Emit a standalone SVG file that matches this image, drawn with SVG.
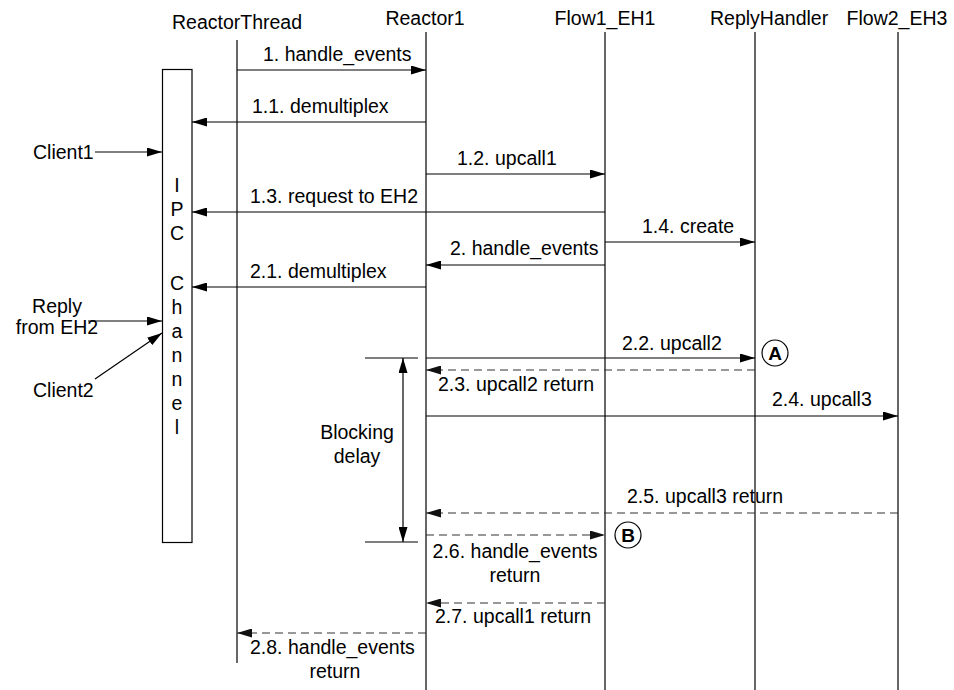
<svg xmlns="http://www.w3.org/2000/svg" width="954" height="690" viewBox="0 0 954 690">
  <defs>
    <marker id="arrow" markerUnits="userSpaceOnUse" markerWidth="15" markerHeight="9" refX="15" refY="4.5" orient="auto-start-reverse">
      <path d="M0,0 L15,4.5 L0,9 z" fill="#000"/>
    </marker>
    <marker id="arrowDash" markerUnits="userSpaceOnUse" markerWidth="15" markerHeight="9" refX="15" refY="4.5" orient="auto">
      <path d="M0,0 L15,4.5 L0,9 z" fill="#111"/>
    </marker>
  </defs>
  <style>
    text { font-family: "Liberation Sans", Arial, sans-serif; font-size: 19.5px; fill: #000; }
    .life { stroke: #000; stroke-width: 1.2; fill: none; }
    .msg { stroke: #000; stroke-width: 1.2; fill: none; marker-end: url(#arrow); }
    .ret { stroke: #333; stroke-width: 1.2; fill: none; stroke-dasharray: 8 5; marker-end: url(#arrowDash); }
    .plain { stroke: #000; stroke-width: 1.2; fill: none; }
    .mid { text-anchor: middle; }
    .tag { font-weight: bold; font-size: 19px; text-anchor: middle; }
  </style>
  <rect width="954" height="690" fill="#fff"/>

  <!-- lifelines -->
  <g id="reactor-thread">
    <text x="237" y="29" class="mid">ReactorThread</text>
    <line class="life" x1="237" y1="40" x2="237" y2="663"/>
  </g>
  <g id="reactor1">
    <text x="425" y="25" class="mid">Reactor1</text>
    <line class="life" x1="426" y1="32" x2="426" y2="690"/>
  </g>
  <g id="flow1-eh1">
    <text x="605" y="25" class="mid">Flow1_EH1</text>
    <line class="life" x1="605" y1="32" x2="605" y2="690"/>
  </g>
  <g id="reply-handler">
    <text x="710" y="25">ReplyHandler</text>
    <line class="life" x1="755" y1="32" x2="755" y2="690"/>
  </g>
  <g id="flow2-eh3">
    <text x="897" y="25" class="mid">Flow2_EH3</text>
    <line class="life" x1="898" y1="32" x2="898" y2="690"/>
  </g>

  <!-- IPC channel -->
  <g id="ipc-channel">
    <rect x="162.5" y="69.5" width="29.5" height="473" fill="none" stroke="#000" stroke-width="1.2"/>
    <text x="177" y="192" class="mid">I</text>
    <text x="177" y="216" class="mid">P</text>
    <text x="177" y="240" class="mid">C</text>
    <text x="177" y="290" class="mid">C</text>
    <text x="177" y="314" class="mid">h</text>
    <text x="177" y="338" class="mid">a</text>
    <text x="177" y="362" class="mid">n</text>
    <text x="177" y="386" class="mid">n</text>
    <text x="177" y="410" class="mid">e</text>
    <text x="177" y="434" class="mid">l</text>
  </g>

  <!-- external sources -->
  <g id="client1">
    <text x="33" y="159">Client1</text>
  </g>
  <g id="reply-from-eh2">
    <text x="57" y="313" class="mid">Reply</text>
    <text x="57" y="334" class="mid">from EH2</text>
  </g>
  <g id="client2">
    <text x="33" y="397">Client2</text>
  </g>

  <!-- blocking delay span -->
  <g id="blocking-delay">
    <line class="plain" x1="365" y1="358" x2="418" y2="358"/>
    <line class="plain" x1="365" y1="542" x2="418" y2="542"/>
    <line class="plain" x1="403" y1="358" x2="403" y2="542" marker-start="url(#arrow)" marker-end="url(#arrow)"/>
    <text x="357" y="439" class="mid">Blocking</text>
    <text x="357" y="463" class="mid">delay</text>
  </g>

  <!-- markers A and B -->
  <g id="point-a">
    <circle cx="775" cy="353" r="13" fill="#fff" stroke="#000" stroke-width="1.2"/>
    <text x="775" y="360" class="tag">A</text>
  </g>
  <g id="point-b">
    <circle cx="628" cy="535" r="13" fill="#fff" stroke="#000" stroke-width="1.2"/>
    <text x="628" y="542" class="tag">B</text>
  </g>

  <!-- messages -->
  <g id="connectors">
    <line class="msg" x1="95" y1="152" x2="162" y2="152"/>
    <line class="msg" x1="88" y1="321" x2="162" y2="321"/>
    <line class="msg" x1="95" y1="379" x2="162" y2="333"/>

    <line class="msg" x1="237" y1="70" x2="426" y2="70"/>
    <text x="263" y="61">1. handle_events</text>

    <line class="msg" x1="426" y1="122" x2="192" y2="122"/>
    <text x="252" y="113">1.1. demultiplex</text>

    <line class="msg" x1="426" y1="174" x2="605" y2="174"/>
    <text x="457" y="165">1.2. upcall1</text>

    <line class="msg" x1="605" y1="212" x2="192" y2="212"/>
    <text x="250" y="203">1.3. request to EH2</text>

    <line class="msg" x1="605" y1="242" x2="755" y2="242"/>
    <text x="642" y="233">1.4. create</text>

    <line class="msg" x1="605" y1="265" x2="426" y2="265"/>
    <text x="450" y="255">2. handle_events</text>

    <line class="msg" x1="426" y1="287" x2="192" y2="287"/>
    <text x="250" y="278">2.1. demultiplex</text>

    <line class="msg" x1="426" y1="358" x2="755" y2="358"/>
    <text x="622" y="350">2.2. upcall2</text>

    <line class="ret" x1="755" y1="370" x2="426" y2="370"/>
    <text x="438" y="391">2.3. upcall2 return</text>

    <line class="msg" x1="426" y1="416" x2="898" y2="416"/>
    <text x="772" y="406">2.4. upcall3</text>

    <line class="ret" x1="898" y1="513" x2="426" y2="513"/>
    <text x="627" y="503">2.5. upcall3 return</text>

    <line class="ret" x1="426" y1="535" x2="605" y2="535"/>
    <text x="515" y="558" class="mid">2.6. handle_events</text>
    <text x="515" y="582" class="mid">return</text>

    <line class="ret" x1="605" y1="603" x2="426" y2="603"/>
    <text x="435" y="623">2.7. upcall1 return</text>

    <line class="ret" x1="426" y1="633" x2="237" y2="633"/>
    <text x="250" y="654">2.8. handle_events</text>
    <text x="335" y="678" class="mid">return</text>
  </g>
</svg>
